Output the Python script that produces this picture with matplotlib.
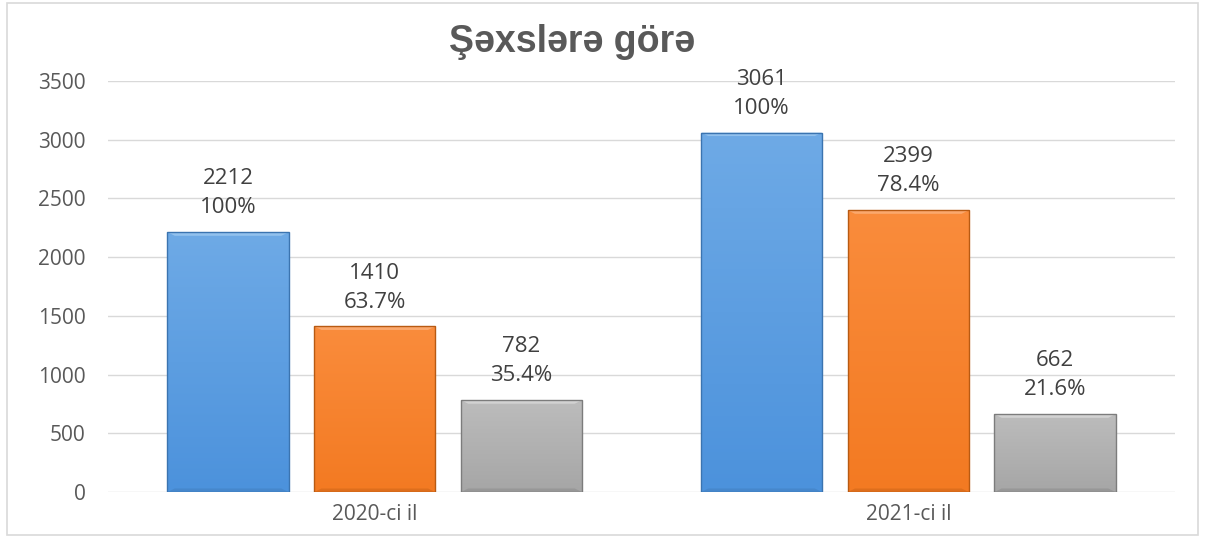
import numpy as np
import matplotlib.pyplot as plt
from matplotlib.patches import Rectangle, Polygon
from matplotlib.colors import LinearSegmentedColormap

# --- Data ---
years = ["2020-ci il", "2021-ci il"]
total = [2212, 3061]
second = [1410, 2399]
third = [782, 662]
pct_total = ["100%", "100%"]
pct_second = ["63.7%", "78.4%"]
pct_third = ["35.4%", "21.6%"]

plt.rcParams["font.family"] = ["Open Sans", "DejaVu Sans"]

fig = plt.figure(figsize=(12.05, 5.38), dpi=100)
fig.patch.set_facecolor("white")
fig.patches.append(Rectangle((7 / 1205, 3 / 538), 1191 / 1205, 532 / 538,
                             transform=fig.transFigure, fill=False,
                             edgecolor="#d9d9d9", linewidth=1.2))

ax = fig.add_axes([108 / 1205, 1 - 492 / 538, 1067 / 1205, 411 / 538])
ax.set_facecolor("white")

x = np.arange(len(years))
w = 0.227
step = 0.275

# (top colour, bottom colour, edge, bevel light)
series = [
    (total, pct_total, ("#6eaae6", "#4c92dc", "#3b74b0", "#9cc8f0")),
    (second, pct_second, ("#fa8c3c", "#f37a22", "#b85a12", "#fcb07a")),
    (third, pct_third, ("#bcbcbc", "#a6a6a6", "#7c7c7c", "#d8d8d8")),
]

bev_y = 30  # bevel depth in data units

for i, (vals, pcts, (c_top, c_bot, c_edge, c_lt)) in enumerate(series):
    pos = x + (i - 1) * step
    bars = ax.bar(pos, vals, width=w, color=c_bot, edgecolor="none",
                  linewidth=0, zorder=3)
    cmap = LinearSegmentedColormap.from_list("g", [c_bot, c_top])
    grad = np.linspace(0, 1, 100).reshape(-1, 1)
    for b, v, p in zip(bars, vals, pcts):
        x0, y0 = b.get_x(), b.get_y()
        bw, bh = b.get_width(), b.get_height()
        im = ax.imshow(grad, cmap=cmap, origin="lower", aspect="auto",
                       extent=[x0, x0 + bw, y0, y0 + bh], zorder=3.5)
        im.set_clip_path(b)
        bx = bw * 0.06
        # light bevel on top
        ax.add_patch(Polygon([(x0, v), (x0 + bw, v), (x0 + bw - bx, v - bev_y),
                              (x0 + bx, v - bev_y)], closed=True,
                             facecolor=c_lt, edgecolor="none", alpha=0.8, zorder=3.6))
        # darker bevel at bottom
        ax.add_patch(Polygon([(x0, 0), (x0 + bw, 0), (x0 + bw - bx, bev_y),
                              (x0 + bx, bev_y)], closed=True,
                             facecolor=c_edge, edgecolor="none", alpha=0.35, zorder=3.6))
        ax.add_patch(Rectangle((x0, y0), bw, bh, fill=False,
                               edgecolor=c_edge, linewidth=1.0, zorder=4))
        ax.annotate(f"{v}\n{p}", xy=(b.get_x() + bw / 2, v),
                    xytext=(0, 10), textcoords="offset points",
                    ha="center", va="bottom", fontsize=16,
                    color="#404040", linespacing=1.5)

ax.set_xlim(-0.5, 1.5)
ax.set_ylim(0, 3500)
ax.set_yticks(np.arange(0, 3501, 500))
ax.set_xticks(x)
ax.set_xticklabels(years)
ax.tick_params(axis="both", length=0, labelsize=15, colors="#595959")
ax.tick_params(axis="y", pad=16)
ax.tick_params(axis="x", pad=9)
ax.grid(axis="y", color="#d9d9d9", linewidth=1.0, zorder=0)
ax.set_axisbelow(True)
for s in ax.spines.values():
    s.set_visible(False)

fig.text(572 / 1205, 1 - 52 / 538, "Şəxslərə görə", ha="center", va="baseline",
         fontsize=27, fontweight="bold", color="#595959",
         family=["Liberation Sans", "DejaVu Sans"])

fig.savefig("out.png", dpi=100)
